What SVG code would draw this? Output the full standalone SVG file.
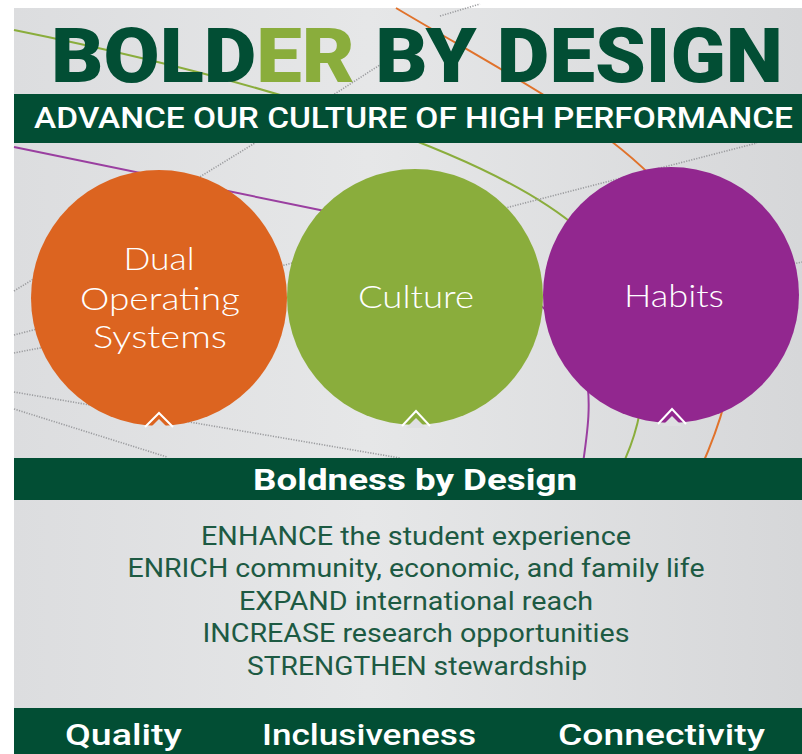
<svg xmlns="http://www.w3.org/2000/svg" width="802" height="754" viewBox="0 0 802 754">
<defs>
<linearGradient id="bg" x1="0" y1="0" x2="1" y2="0">
<stop offset="0" stop-color="#dcdddf"/>
<stop offset="0.45" stop-color="#e6e7e8"/>
<stop offset="1" stop-color="#d6d7d9"/>
</linearGradient>
<style>
.bar{fill:#024e34}
.dot{fill:none;stroke:#9a9b9e;stroke-width:1.6;stroke-dasharray:1.2 1.4}
.ln{fill:none;stroke-width:2}
.ct{font-family:"Lato","Open Sans",sans-serif;font-weight:300;font-size:31px;fill:#ffffff;text-anchor:middle}
.list{font-family:"Roboto","Liberation Sans",sans-serif;font-size:25px;fill:#1d5a43;text-anchor:middle}
.bt{font-family:"Roboto","Liberation Sans",sans-serif;font-weight:500;font-size:30px;fill:#ffffff}
.chev{fill:none;stroke:#ffffff;stroke-width:2}
.notch{fill:#dfe0e2}
</style>
</defs>
<rect x="0" y="0" width="802" height="754" fill="#ffffff"/>
<rect x="14" y="8" width="788" height="746" fill="url(#bg)"/>

<g id="background-lines">
<path class="ln" stroke="#8aad3c" d="M14,30 C300,88 500,160 580,230 C640,290 665,380 620,470"/>
<path class="ln" stroke="#e0722b" d="M396,8 C500,70 600,120 660,185 C760,290 740,380 700,470"/>
<path class="ln" stroke="#9a3fa0" d="M14,147 L320,210 C450,240 560,290 585,370 C592,400 588,430 582,470"/>
<path class="dot" d="M14,291 L255,143"/>
<path class="dot" d="M14,335 L757,143"/>
<path class="dot" d="M14,353 L160,325"/>
<path class="dot" d="M14,392 L400,458"/>
<path class="dot" d="M14,409 L167,457"/>
<path class="dot" d="M330,97 L386,61"/>
<path class="dot" d="M440,16 L480,4"/>
<path class="dot" d="M720,280 L802,262"/>
</g>

<g id="title">
<text x="51" y="82" textLength="732" lengthAdjust="spacingAndGlyphs" font-family="Roboto, 'DejaVu Sans', sans-serif" font-weight="900" font-size="76" fill="#024e34">BOLD<tspan fill="#8aad3c">ER</tspan> BY DESIGN</text>
</g>

<g id="header-bar">
<rect class="bar" x="14" y="94" width="788" height="49"/>
<text x="34" y="128" textLength="759" lengthAdjust="spacingAndGlyphs" font-family="Roboto, 'Liberation Sans', sans-serif" font-weight="500" font-size="29" fill="#ffffff">ADVANCE OUR CULTURE OF HIGH PERFORMANCE</text>
</g>

<g id="dual-operating-systems">
<circle cx="159" cy="298" r="128" fill="#dc6420"/>
<polygon class="notch" points="149,429 159,419 169,429"/>
<polyline class="chev" points="145,427 159,413 173,427"/>
<text class="ct" x="159" y="270" textLength="71" lengthAdjust="spacingAndGlyphs">Dual</text>
<text class="ct" x="160" y="310" textLength="160" lengthAdjust="spacingAndGlyphs">Operating</text>
<text class="ct" x="160" y="348" textLength="134" lengthAdjust="spacingAndGlyphs">Systems</text>
</g>

<g id="culture">
<circle cx="415" cy="297" r="128" fill="#8aad3c"/>
<polygon class="notch" points="406,428 416,418 426,428"/>
<polyline class="chev" points="402,426 416,411 430,426"/>
<text class="ct" x="416" y="308" textLength="116" lengthAdjust="spacingAndGlyphs">Culture</text>
</g>

<g id="habits">
<circle cx="671" cy="295" r="128" fill="#92278f"/>
<polygon class="notch" points="662,426 672,416 682,426"/>
<polyline class="chev" points="658,424 672,409 686,424"/>
<text class="ct" x="674" y="307" textLength="100" lengthAdjust="spacingAndGlyphs">Habits</text>
</g>

<g id="boldness-bar">
<rect class="bar" x="14" y="458" width="788" height="42"/>
<text x="415" y="490" text-anchor="middle" textLength="324" lengthAdjust="spacingAndGlyphs" font-family="Roboto, 'Liberation Sans', sans-serif" font-weight="700" font-size="30" fill="#ffffff">Boldness by Design</text>
</g>

<g id="goals">
<text class="list" x="416" y="545" textLength="430" lengthAdjust="spacingAndGlyphs">ENHANCE the student experience</text>
<text class="list" x="416" y="577" textLength="577" lengthAdjust="spacingAndGlyphs">ENRICH community, economic, and family life</text>
<text class="list" x="416" y="610" textLength="354" lengthAdjust="spacingAndGlyphs">EXPAND international reach</text>
<text class="list" x="416" y="642" textLength="427" lengthAdjust="spacingAndGlyphs">INCREASE research opportunities</text>
<text class="list" x="417" y="675" textLength="340" lengthAdjust="spacingAndGlyphs">STRENGTHEN stewardship</text>
</g>

<g id="values-bar">
<rect class="bar" x="14" y="708" width="788" height="46"/>
<text class="bt" x="65" y="745" textLength="117" lengthAdjust="spacingAndGlyphs">Quality</text>
<text class="bt" x="262" y="745" textLength="214" lengthAdjust="spacingAndGlyphs">Inclusiveness</text>
<text class="bt" x="558" y="745" textLength="207" lengthAdjust="spacingAndGlyphs">Connectivity</text>
</g>
</svg>
